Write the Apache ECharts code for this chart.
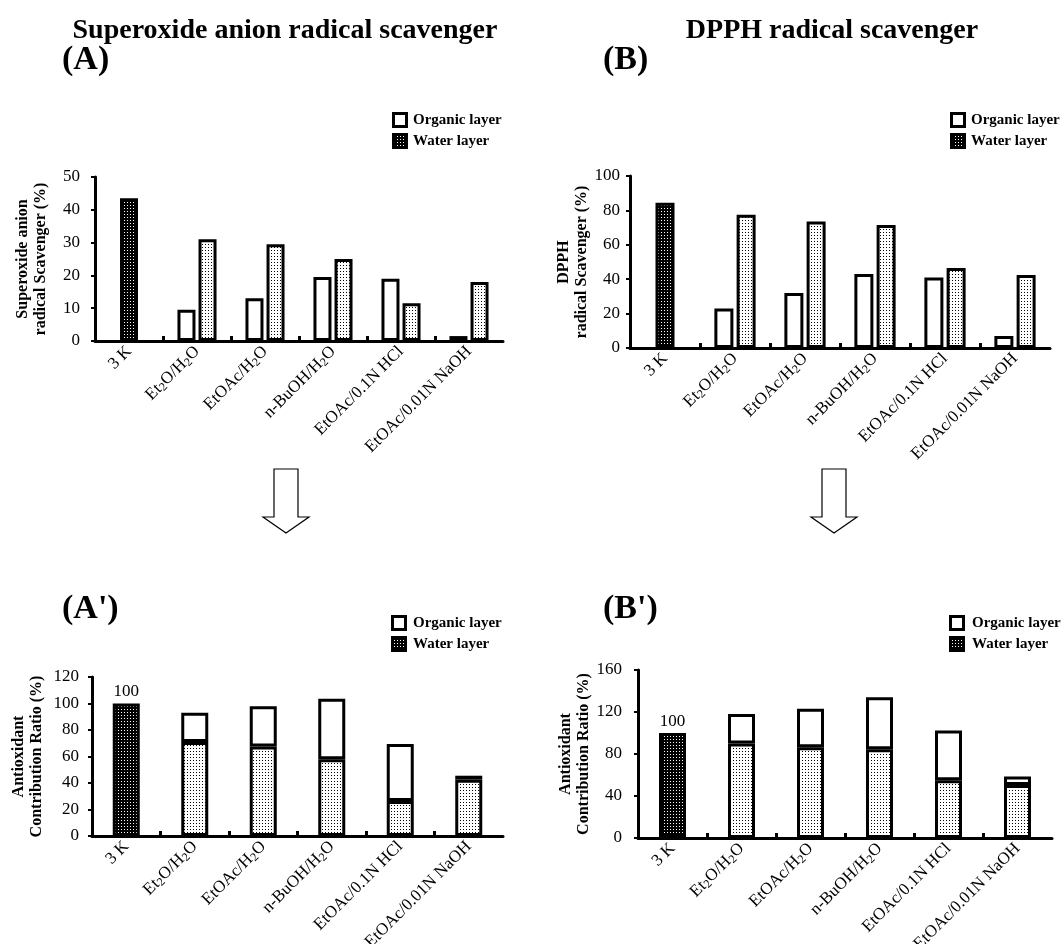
<!DOCTYPE html>
<html>
<head>
<meta charset="utf-8">
<script src="https://cdn.jsdelivr.net/npm/echarts@6/dist/echarts.min.js"></script>
<style>
  html, body { margin: 0; padding: 0; background: #fff; }
  #chart { width: 1064px; height: 944px; }
</style>
</head>
<body>
<div id="chart"></div>
<script>
// Solvent fractions (digits after a letter are drawn as subscripts)
const categories = ['3 K', 'Et2O/H2O', 'EtOAc/H2O', 'n-BuOH/H2O', 'EtOAc/0.1N HCl', 'EtOAc/0.01N NaOH'];

// (A) superoxide anion radical scavenging, %
const superoxide3K      = [43.5, '-', '-', '-', '-', '-'];
const superoxideOrganic = ['-', 9.5, 13, 19.5, 19, 1.5];
const superoxideWater   = ['-', 31, 29.5, 25, 11.5, 18];

// (B) DPPH radical scavenging, %
const dpph3K      = [84.5, '-', '-', '-', '-', '-'];
const dpphOrganic = ['-', 23, 32, 43, 41, 7];
const dpphWater   = ['-', 77.5, 73.5, 71.5, 46.5, 42.5];

// (A') antioxidant contribution ratio from superoxide scavenging, %
const ratioSuperoxide3K      = [100, '-', '-', '-', '-', '-'];
const ratioSuperoxideWater   = ['-', 71, 67.5, 58, 26.5, 42.5];
const ratioSuperoxideOrganic = ['-', 22, 30.5, 45.5, 43, 3];

// (B') antioxidant contribution ratio from DPPH scavenging, %
const ratioDpph3K      = [100, '-', '-', '-', '-', '-'];
const ratioDpphWater   = ['-', 90, 86.5, 84.5, 55, 50.5];
const ratioDpphOrganic = ['-', 28, 36.5, 49.5, 47.5, 8];

// y tick labels of each panel
const ticksA  = [0, 10, 20, 30, 40, 50];
const ticksB  = [0, 20, 40, 60, 80, 100];
const ticksA2 = [0, 20, 40, 60, 80, 100, 120];
const ticksB2 = [0, 40, 80, 120, 160];

const SERIF = '"Liberation Serif", "Times New Roman", serif';

// dotted fills
function makePattern(bg, fg, dots) {
  const c = document.createElement('canvas');
  c.width = 3; c.height = 3;
  const g = c.getContext('2d');
  g.fillStyle = bg; g.fillRect(0, 0, 3, 3);
  g.fillStyle = fg;
  dots.forEach(d => g.fillRect(d[0], d[1], 1, 1));
  return { image: c, repeat: 'repeat' };
}
const waterFill = makePattern('#ffffff', '#000000', [[1, 1]]);
const darkFill  = makePattern('#000000', '#ffffff', [[1, 1]]);

const border = { borderColor: '#000', borderWidth: 3 };

function catLabel(v) {
  return v.replace(/([A-Za-z])2/g, '$1{s|2}');
}

function xAxesFor(gridIndex) {
  return [
    {
      type: 'category', gridIndex, data: categories, position: 'bottom',
      axisLine: { lineStyle: { color: '#000', width: 3 } },
      axisTick: { show: false },
      axisLabel: {
        rotate: 45, margin: 8, color: '#000', fontFamily: SERIF, fontSize: 17, lineHeight: 19,
        interval: 0, formatter: catLabel,
        rich: { s: { fontFamily: SERIF, fontSize: 12, lineHeight: 8, verticalAlign: 'bottom', color: '#000' } }
      }
    },
    { type: 'category', gridIndex, data: categories, show: false },
    {
      type: 'value', gridIndex, min: 0, max: categories.length, position: 'bottom',
      axisLine: { show: false }, axisLabel: { show: false }, splitLine: { show: false },
      axisTick: {
        show: true, inside: true, length: 5,
        lineStyle: { color: '#000', width: 3 },
        customValues: [1, 2, 3, 4, 5]
      }
    }
  ];
}

function yAxisFor(gridIndex, ticks, offset, name, nameGap) {
  return {
    type: 'value', gridIndex,
    min: ticks[0], max: ticks[ticks.length - 1], interval: ticks[1] - ticks[0],
    offset,
    axisLine: { show: true, lineStyle: { color: '#000', width: 3 } },
    axisTick: { show: true, length: 4, lineStyle: { color: '#000', width: 2 } },
    axisLabel: { color: '#000', fontFamily: SERIF, fontSize: 17, margin: 8 },
    splitLine: { show: false },
    name, nameLocation: 'middle', nameGap, nameMoveOverlap: false,
    nameTextStyle: { color: '#000', fontFamily: SERIF, fontSize: 16, fontWeight: 'bold', lineHeight: 18 }
  };
}

function groupedSeries(g, organic, water, single, barWidth) {
  const x = g * 3;
  return [
    { type: 'bar', name: 'Organic layer', xAxisIndex: x, yAxisIndex: g, data: organic,
      barWidth, barGap: '17%', itemStyle: Object.assign({ color: '#fff' }, border) },
    { type: 'bar', name: 'Water layer', xAxisIndex: x, yAxisIndex: g, data: water,
      barWidth, barGap: '17%', itemStyle: Object.assign({ color: waterFill }, border) },
    { type: 'bar', name: '3 K', xAxisIndex: x + 1, yAxisIndex: g, data: single,
      barWidth, itemStyle: Object.assign({ color: darkFill }, border) }
  ];
}

function stackedSeries(g, water, organic, single) {
  const x = g * 3;
  const stack = 'ratio' + g;
  return [
    { type: 'bar', name: 'Water layer', xAxisIndex: x, yAxisIndex: g, data: water, stack,
      barWidth: 27, itemStyle: Object.assign({ color: waterFill }, border) },
    { type: 'bar', name: 'Organic layer', xAxisIndex: x, yAxisIndex: g, data: organic, stack,
      barWidth: 27, itemStyle: Object.assign({ color: '#fff' }, border) },
    { type: 'bar', name: '3 K', xAxisIndex: x, yAxisIndex: g, data: single, stack,
      barWidth: 27, itemStyle: Object.assign({ color: darkFill }, border),
      label: { show: true, position: 'top', distance: 3, color: '#000', fontFamily: SERIF, fontSize: 17 } }
  ];
}

function text(x, y, str, size, weight, align) {
  return { type: 'text', x, y, silent: true,
    style: { text: str, fill: '#000', font: (weight || 'normal') + ' ' + size + 'px ' + SERIF,
             textAlign: align || 'left', textVerticalAlign: 'middle' } };
}

function legend(boxX, textX, y1, y2) {
  return [
    { type: 'rect', silent: true, shape: { x: boxX, y: y1 - 6.5, width: 13, height: 13 },
      style: { fill: '#fff', stroke: '#000', lineWidth: 3 } },
    { type: 'rect', silent: true, shape: { x: boxX, y: y2 - 6.5, width: 13, height: 13 },
      style: { fill: darkFill, stroke: '#000', lineWidth: 3 } },
    text(textX, y1, 'Organic layer', 15, 'bold'),
    text(textX, y2, 'Water layer', 15, 'bold')
  ];
}

function arrow(cx) {
  return { type: 'polygon', silent: true,
    shape: { points: [[cx - 12, 469], [cx + 12, 469], [cx + 12, 517], [cx + 23, 517],
                      [cx, 533], [cx - 23, 517], [cx - 12, 517]] },
    style: { fill: '#fff', stroke: '#000', lineWidth: 1.2 } };
}

const chart = echarts.init(document.getElementById('chart'), null, { renderer: 'canvas' });
chart.setOption({
  animation: false,
  backgroundColor: '#fff',
  grid: [
    { left: 95,  top: 177, width: 408, height: 164, outerBoundsMode: 'none' },
    { left: 630, top: 176, width: 420, height: 172, outerBoundsMode: 'none' },
    { left: 92,  top: 677, width: 411, height: 159, outerBoundsMode: 'none' },
    { left: 638, top: 670, width: 414, height: 168, outerBoundsMode: 'none' }
  ],
  xAxis: [].concat(xAxesFor(0), xAxesFor(1), xAxesFor(2), xAxesFor(3)),
  yAxis: [
    yAxisFor(0, ticksA, 7, 'Superoxide anion\nradical Scavenger (%)', 38),
    yAxisFor(1, ticksB, 2, 'DPPH\nradical Scavenger (%)', 37),
    yAxisFor(2, ticksA2, 5, 'Antioxidant\nContribution Ratio (%)', 41),
    yAxisFor(3, ticksB2, 8, 'Antioxidant\nContribution Ratio (%)', 37)
  ],
  series: [].concat(
    groupedSeries(0, superoxideOrganic, superoxideWater, superoxide3K, 18),
    groupedSeries(1, dpphOrganic, dpphWater, dpph3K, 19),
    stackedSeries(2, ratioSuperoxideWater, ratioSuperoxideOrganic, ratioSuperoxide3K),
    stackedSeries(3, ratioDpphWater, ratioDpphOrganic, ratioDpph3K)
  ),
  graphic: { elements: [].concat(
    text(285, 31, 'Superoxide anion radical scavenger', 28, 'bold', 'center'),
    text(832, 31, 'DPPH radical scavenger', 28, 'bold', 'center'),
    text(62, 60, '(A)', 34, 'bold'),
    text(603, 60, '(B)', 34, 'bold'),
    text(62, 609, "(A')", 34, 'bold'),
    text(603, 609, "(B')", 34, 'bold'),
    legend(393.5, 413, 120, 141),
    legend(951.5, 971, 120, 141),
    legend(392.5, 413, 623, 644),
    legend(950.5, 972, 623, 644),
    arrow(286),
    arrow(834)
  ) }
});
</script>
</body>
</html>
